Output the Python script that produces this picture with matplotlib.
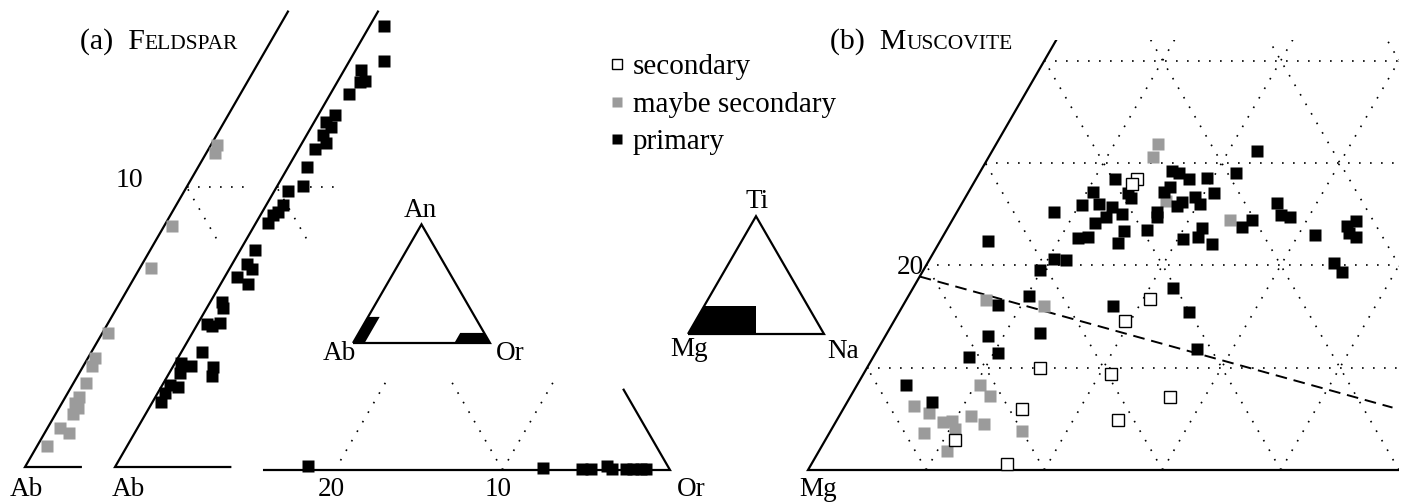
import numpy as np
import matplotlib
matplotlib.use("Agg")
import matplotlib.pyplot as plt
from matplotlib.lines import Line2D
from matplotlib.patches import Polygon

W, H = 1410, 504
plt.rcParams['font.family'] = ['Liberation Serif', 'DejaVu Serif']
GREY = '#9b9b9b'
R3 = np.sqrt(3) / 2

# ---- (a) feldspar, Ab corner: An %, Or %
fsp_grey_an = [11.5, 11.2, 8.6, 7.1, 4.8, 3.9, 3.6, 3.0, 2.5, 2.3, 2.1, 1.9, 1.4, 1.2, 0.75]
fsp_grey_or = [0.19, 0.27, 0.24, 0.36, 0.18, 0.22, 0.26, 0.40, 0.43, 0.41, 0.60, 0.53, 0.37, 0.75, 0.31]

fsp_black_an = [15.75, 14.5, 14.18, 13.79, 13.75, 13.32, 12.57, 12.32, 12.14, 11.86, 11.57, 11.36,
                10.71, 10.04, 9.86, 9.36, 9.11, 9.0, 8.71, 7.75, 7.25, 7.07, 6.79, 6.54, 5.89,
                5.68, 5.11, 5.04, 5.14, 4.11, 3.71, 3.61, 3.57, 3.25, 3.36, 2.93, 2.86, 2.64, 2.32]
fsp_black_or = [0.45, 1.07, 0.52, 0.84, 0.71, 0.58, 0.52, 0.37, 0.61, 0.51, 0.74, 0.51,
                0.58, 0.80, 0.42, 0.52, 0.49, 0.39, 0.38, 0.46, 0.46, 0.71, 0.38, 0.85, 0.36,
                0.50, 0.29, 0.48, 0.68, 0.64, 0.19, 0.55, 1.25, 1.38, 0.33, 0.24, 0.52, 0.23, 0.26]

# ---- (a) feldspar, Or corner: Ab %, An %
fsp_or_ab = [21.5, 7.5, 5.2, 4.7, 3.6, 3.4, 2.6, 2.15, 1.67, 1.37]
fsp_or_an = [0.28, 0.14, 0.07, 0.07, 0.28, 0.10, 0.07, 0.07, 0.07, 0.07]

# ---- (b) muscovite: Na %, Ti %
mus_pri_na = [16.2, 16.9, 18.0, 19.5, 11.8, 10.5, 13.5, 14.0, 16.5, 16.8, 18.5, 18.3, 19.4, 20.2,
              10.2, 11.6, 12.9, 12.9, 14.1, 8.2, 12.2, 16.9, 17.2, 17.0, 15.1, 11.5, 12.3, 15.1,
              20.4, 21.6, 21.5, 4.0, 10.5, 11.6, 22.4, 21.7, 20.8, 26.6, 27.6, 28.4, 25.4, 24.9,
              23.1, 31.4, 33.7, 34.2, 34.2, 35.0, 34.4, 35.5, 9.9, 10.2, 8.0, 17.8, 22.0, 24.5,
              12.9, 8.7, 10.4, 8.1, 27.0, 4.1, 7.2]
mus_pri_ti = [29.2, 29.0, 28.4, 28.5, 28.4, 27.2, 27.1, 26.6, 27.2, 27.6, 26.2, 25.8, 26.7, 26.0,
              25.9, 26.0, 25.7, 24.7, 25.0, 25.2, 24.1, 25.2, 24.7, 23.4, 23.3, 22.7, 22.8, 22.2,
              22.6, 22.8, 23.6, 22.4, 20.6, 20.5, 31.2, 29.0, 27.1, 26.1, 24.9, 24.7, 24.4, 23.7,
              22.1, 23.0, 23.8, 24.3, 23.2, 22.8, 20.2, 19.3, 19.5, 17.0, 16.1, 16.0, 17.8, 15.4,
              13.4, 13.1, 11.4, 11.0, 11.8, 8.3, 6.6]
mus_may_na = [13.7, 13.9, 17.1, 23.5, 6.8, 12.0, 10.4, 11.8, 5.8, 7.4, 11.1, 12.6, 9.1, 9.8, 10.4,
              8.0, 16.2, 10.8]
mus_may_ti = [31.8, 30.6, 26.3, 24.4, 16.6, 16.0, 8.3, 7.2, 6.3, 5.6, 5.3, 4.5, 4.7, 4.8, 4.0,
              3.6, 3.8, 1.9]
mus_sec_na = [13.6, 13.5, 20.6, 19.5, 14.6, 20.9, 27.1, 15.1, 23.8, 11.0, 16.5]
mus_sec_ti = [28.4, 27.9, 16.7, 14.6, 10.0, 9.4, 7.1, 6.0, 4.9, 2.9, 0.6]

# dividing line (Na %, Ti %)
div_na = [0.0, 46.4]
div_ti = [18.9, 6.1]

fig = plt.figure(figsize=(W / 100, H / 100), dpi=100)


def tern(top, right):
    top = np.asarray(top, float)
    right = np.asarray(right, float)
    return right + top / 2, top * R3


def panel(box, anchor_px, anchor_xy, scale):
    x0, y0, x1, y1 = box
    ax = fig.add_axes([x0 / W, 1 - y1 / H, (x1 - x0) / W, (y1 - y0) / H])
    ax.set_xlim(anchor_xy[0] + (x0 - anchor_px[0]) / scale, anchor_xy[0] + (x1 - anchor_px[0]) / scale)
    ax.set_ylim(anchor_xy[1] - (y1 - anchor_px[1]) / scale, anchor_xy[1] - (y0 - anchor_px[1]) / scale)
    ax.set_axis_off()
    return ax


def grid(ax, clip=None):
    for k in range(10, 100, 10):
        for a, b in [((k, 0), (k, 100 - k)), ((0, k), (100 - k, k)), ((0, 100 - k), (100 - k, 0))]:
            ln, = ax.plot(*tern([a[0], b[0]], [a[1], b[1]]), color='k', lw=1.2, ls=(0, (1, 5.6)))
            if clip is not None:
                ln.set_clip_path(Polygon(np.column_stack(tern(*clip)), transform=ax.transData))


def edge(ax, top, right):
    ax.plot(*tern(top, right), color='k', lw=1.6, solid_capstyle='butt', solid_joinstyle='miter')


def label(ax, s, top, right, dx, dy, ha='center', size=19.5):
    ax.annotate(s, tern(top, right), xytext=(dx, dy), textcoords='offset pixels',
                ha=ha, va='center', fontsize=size)


sq = dict(ls='none', marker='s', ms=9.3)

# ---------------- (a) feldspar
strip_clip = ([0, 0, 17, 17], [0, 2.0, 2.0, 0])
ax1 = panel((5, 5, 300, 480), (25, 467), (0, 0), 32.33)
grid(ax1, strip_clip)
edge(ax1, [16.3, 0, 0], [0, 0, 1.76])
ax1.plot(*tern(fsp_grey_an, fsp_grey_or), mfc=GREY, mec='none', **sq)
label(ax1, 'Ab', 0, 0, 1, -23)
label(ax1, '10', 10, 0, -57, 7, size=20)

ax2 = panel((95, 5, 400, 480), (115, 467), (0, 0), 32.33)
grid(ax2, strip_clip)
edge(ax2, [16.3, 0, 0], [0, 0, 3.6])
ax2.plot(*tern(fsp_black_an, fsp_black_or), mfc='k', mec='none', **sq)
label(ax2, 'Ab', 0, 0, 13, -23)

ax3 = panel((255, 380, 700, 485), (670, 470), (100, 0), 16.75)
fsp_or_or = 100 - np.array(fsp_or_ab) - np.array(fsp_or_an)
grid(ax3, ([0, 0, 10, 10], [80.2, 100, 90, 70.2]))
edge(ax3, [5.6, 0, 0], [94.4, 100, 75.7])
ax3.plot(*tern(fsp_or_an, fsp_or_or), mfc='k', mec='none', **sq)
for v in (20, 10):
    label(ax3, str(v), 0, 100 - v, -4, -20)
label(ax3, 'Or', 0, 100, 21, -20)

# inset triangle An-Ab-Or
ax4 = panel((320, 190, 530, 370), (353, 343), (0, 0), 1.37)
ax4.fill(*tern([0, 0, 22, 22], [0, 8.5, 8.5, 0]), color='k', lw=0)
ax4.fill(*tern([0, 0, 8.5, 8.5], [74, 100, 91.5, 74]), color='k', lw=0)
edge(ax4, [0, 0, 100, 0], [0, 100, 0, 0])
label(ax4, 'An', 100, 0, -1, 14)
label(ax4, 'Ab', 0, 0, -14, -11)
label(ax4, 'Or', 0, 100, 20, -11)

# ---------------- (b) muscovite
ax5 = panel((660, 180, 880, 370), (688, 334), (0, 0), 1.36)
ax5.fill(*tern([0, 0, 24, 24], [0, 50, 38, 0]), color='k', lw=0)
edge(ax5, [0, 0, 100, 0], [0, 100, 0, 0])
label(ax5, 'Ti', 100, 0, 1, 15)
label(ax5, 'Mg', 0, 0, 1, -16)
label(ax5, 'Na', 0, 100, 19, -17)

ax6 = panel((795, 40, 1399, 482), (808, 470), (0, 0), 11.82)
grid(ax6)
edge(ax6, [45, 0, 0], [0, 0, 50])
ax6.plot(*tern(div_ti, div_na), color='k', lw=1.4, ls=(0, (6, 3.5)))
ax6.plot(*tern(mus_may_ti, mus_may_na), mfc=GREY, mec='none', **sq)
ax6.plot(*tern(mus_pri_ti, mus_pri_na), mfc='k', mec='none', **sq)
ax6.plot(*tern(mus_sec_ti, mus_sec_na), mfc='white', mec='k', mew=1.0, ls='none', marker='s', ms=8.6)
label(ax6, '20', 20, 0, -2, -2, ha='right')
label(ax6, 'Mg', 0, 0, 10, -19)

# titles with small capitals
fig.canvas.draw()
renderer = fig.canvas.get_renderer()
for x, y, big, small in [(80, 49, '(a)  F', 'ELDSPAR'), (830, 49, '(b)  M', 'USCOVITE')]:
    t = fig.text(x / W, 1 - y / H, big, fontsize=21.5, va='baseline')
    bb = t.get_window_extent(renderer)
    fig.text(bb.x1 / W, 1 - y / H, small, fontsize=15.5, va='baseline')

handles = [Line2D([], [], ls='none', marker='s', ms=7.4, mfc='white', mec='k', mew=1.0),
           Line2D([], [], ls='none', marker='s', ms=7.8, mfc=GREY, mec='none'),
           Line2D([], [], ls='none', marker='s', ms=7.8, mfc='k', mec='none')]
fig.legend(handles, ['secondary', 'maybe secondary', 'primary'], loc='upper left',
           bbox_to_anchor=(611 / W, 1 - 54 / H), frameon=False, fontsize=21,
           handlelength=0.42, handletextpad=0.32, labelspacing=0.38, borderpad=0, borderaxespad=0)

fig.savefig('out.png', dpi=100)
